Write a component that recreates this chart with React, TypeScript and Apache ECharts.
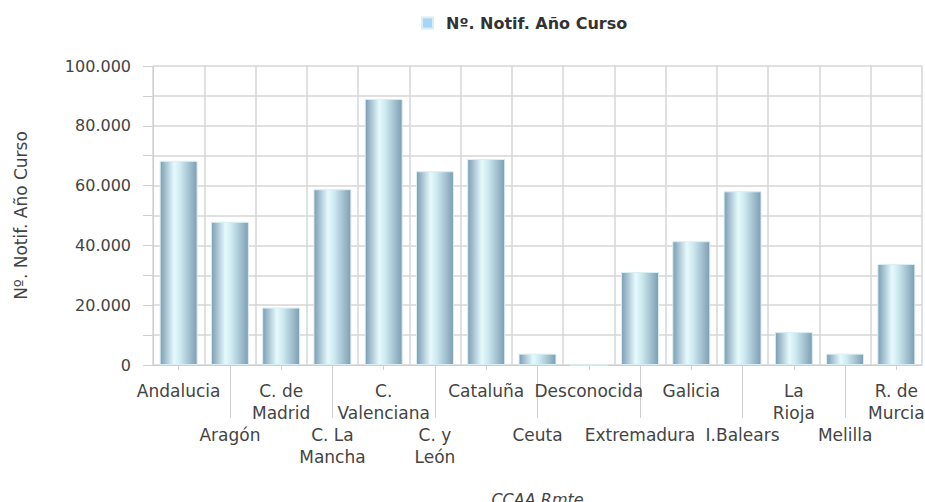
import React, { useEffect, useRef } from "react";
import * as echarts from "echarts";

const categories = [
  "Andalucia", "Aragón", "C. de\nMadrid", "C. La\nMancha", "C.\nValenciana",
  "C. y\nLeón", "Cataluña", "Ceuta", "Desconocida", "Extremadura",
  "Galicia", "I.Balears", "La\nRioja", "Melilla", "R. de\nMurcia",
];
const values = [
  68300, 47900, 19200, 58800, 89000,
  64800, 68900, 3800, 0, 31100,
  41400, 58100, 11000, 3800, 33800,
];
const seriesName = "Nº. Notif. Año Curso";
const xAxisName = "CCAA Rmte";
const yAxisName = "Nº. Notif. Año Curso";
const yMin = 0;
const yMax = 100000;
const yStep = 10000;

const FONT = "DejaVu Sans";

function fmt(v: number): string {
  return String(v).replace(/\B(?=(\d{3})+(?!\d))/g, ".");
}

export default function App() {
  const ref = useRef<HTMLDivElement>(null);
  useEffect(() => {
    if (!ref.current) return;
    const chart = echarts.init(ref.current, null, { renderer: "svg" });
    const barColor = new echarts.graphic.LinearGradient(0, 0, 1, 0, [
      { offset: 0, color: "#7b9db3" },
      { offset: 0.38, color: "#e6fafd" },
      { offset: 0.55, color: "#cde9f0" },
      { offset: 1, color: "#7d9db2" },
    ]);
    chart.setOption({
      animation: false,
      backgroundColor: "#ffffff",
      legend: {
        left: 416,
        top: 10,
        itemWidth: 11,
        itemHeight: 11,
        icon: "rect",
        textStyle: {
          fontFamily: FONT,
          fontSize: 16,
          fontWeight: "bold",
          color: "#333",
          padding: [0, 0, 0, 8],
        },
        data: [{ name: seriesName, itemStyle: { color: "#a6d5f6" } }],
      },
      grid: {
        left: 153,
        right: 3,
        top: 66,
        bottom: 137,
        containLabel: false,
        outerBoundsMode: "none",
      },
      xAxis: [
        {
          type: "category",
          data: categories,
          name: xAxisName,
          nameLocation: "middle",
          nameGap: 126,
          nameTextStyle: {
            fontFamily: FONT,
            fontSize: 16,
            fontStyle: "italic",
            color: "#444",
          },
          axisLine: { show: true, lineStyle: { color: "#cfcfcf", width: 1 } },
          axisTick: {
            show: true,
            alignWithLabel: true,
            length: 5,
            lineStyle: { color: "#cfcfcf" },
          },
          axisLabel: {
            interval: 0,
            margin: 15,
            fontFamily: FONT,
            fontSize: 17,
            color: "#444",
            lineHeight: 22,
            formatter: (v: string, i: number) => (i % 2 === 1 ? "\n\n" + v : v),
          },
          splitLine: { show: true, lineStyle: { color: "#d6d6d6", width: 1.5 } },
        },
        {
          type: "category",
          data: categories,
          position: "bottom",
          axisLine: { show: false },
          axisLabel: { show: false },
          splitLine: { show: false },
          axisTick: {
            show: true,
            alignWithLabel: true,
            length: 53,
            interval: (i: number) => i % 2 === 1,
            lineStyle: { color: "#cfcfcf" },
          },
        },
      ],
      yAxis: {
        type: "value",
        min: yMin,
        max: yMax,
        interval: yStep,
        name: yAxisName,
        nameLocation: "middle",
        nameGap: 124,
        nameRotate: 90,
        nameTextStyle: { fontFamily: FONT, fontSize: 17, color: "#444" },
        axisLine: { show: true, lineStyle: { color: "#cfcfcf" } },
        axisTick: { show: true, length: 10, lineStyle: { color: "#cfcfcf" } },
        axisLabel: {
          margin: 22,
          fontFamily: FONT,
          fontSize: 16,
          color: "#444",
          formatter: (v: number) => (v % 20000 === 0 ? fmt(v) : ""),
        },
        splitLine: { show: true, lineStyle: { color: "#d6d6d6", width: 1.5 } },
      },
      series: [
        {
          name: seriesName,
          type: "bar",
          xAxisIndex: 0,
          data: values,
          barWidth: "74%",
          itemStyle: {
            color: barColor,
            borderColor: "#d9eef3",
            borderWidth: 1,
          },
        },
      ],
    });
    return () => chart.dispose();
  }, []);
  return (
    <div
      ref={ref}
      style={{ position: "fixed", left: 0, top: 0, width: 925, height: 502 }}
    />
  );
}
